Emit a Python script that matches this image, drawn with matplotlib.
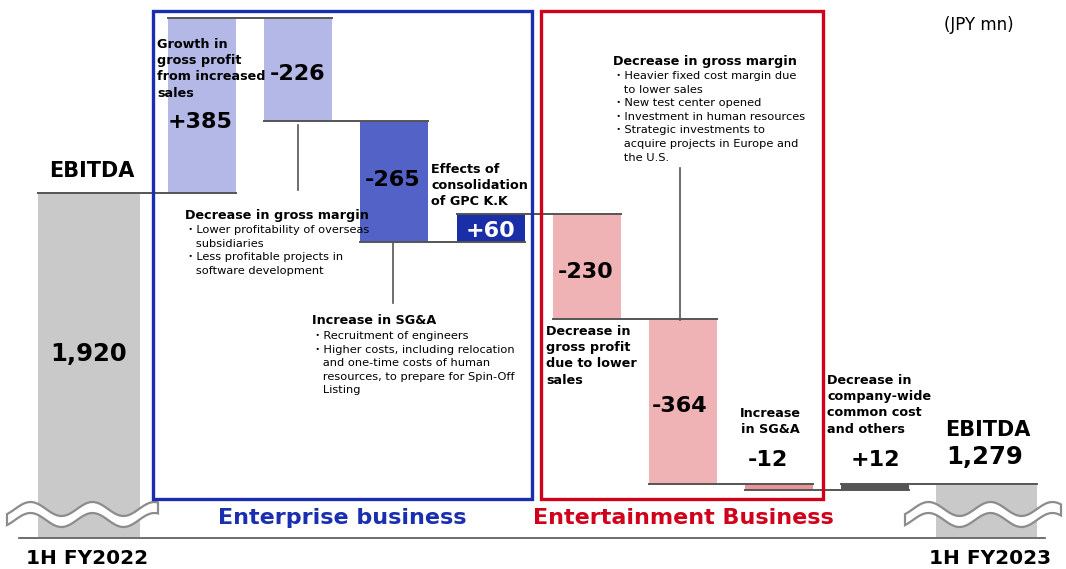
import numpy as np
import matplotlib
matplotlib.use("Agg")
import matplotlib.pyplot as plt
from matplotlib.patches import Polygon, Rectangle
from matplotlib.lines import Line2D

plt.rcParams['font.family'] = ['DejaVu Sans', 'Noto Sans CJK JP']

# data (JPY mn)
start_value = 1920
end_value = 1279
deltas = [385, -226, -265, 60, -230, -364, -12, 12]
value_labels = ['1,920', '+385', '-226', '-265', '+60', '-230', '-364', '-12', '+12', '1,279']
bar_colors = ['#c9c9c9', '#b3b8e7', '#b3b8e7', '#5262c7', '#1a2ea8',
              '#efb3b6', '#efb3b6', '#e8959a', '#555555', '#c9c9c9']

# layout
W, H = 1066, 569
x_off = np.array([-0.17, 0, 0, 0, 0, 0, 0, 0, 0, 0.16])
widths = np.array([1.06] + [0.707] * 8 + [1.05])
base = 1165  # broken axis floor
xa, xb = 105.8, 96.2
ya, yb, yv = 227.5, 0.4547, 1845.1

fig = plt.figure(figsize=(W / 100, H / 100), dpi=100)
ax = fig.add_axes([0, 0, 1, 1])
ax.set_xlim(-xa / xb, (W - xa) / xb)
ax.set_ylim(yv - (H - ya) / yb, yv + ya / yb)
ax.axis('off')


def fx(px):
    return px / W


def fy(py):
    return 1 - py / H


def ftext(px, py, s, **kw):
    kw.setdefault('transform', fig.transFigure)
    return ax.text(fx(px), fy(py), s, **kw)


def fline(xs, ys, **kw):
    ax.add_line(Line2D([fx(x) for x in xs], [fy(y) for y in ys],
                       transform=fig.transFigure, **kw))


# waterfall
levels = np.concatenate([[start_value], start_value + np.cumsum(deltas)])
pos = np.arange(10) + x_off
bottoms = [base]
heights = [start_value - base]
for i, d in enumerate(deltas):
    lo = min(levels[i], levels[i + 1])
    bottoms.append(lo)
    heights.append(abs(d))
bottoms.append(base)
heights.append(end_value - base)

ax.bar(pos, heights, bottom=bottoms, width=widths, color=bar_colors, zorder=2)

# connector lines
for i in range(1, 10):
    lv = levels[i - 1]
    x0 = pos[i - 1] - widths[i - 1] / 2
    x1 = pos[i] + widths[i] / 2
    ax.plot([x0, x1], [lv, lv], color='#555555', lw=1.4, zorder=3)

# axis line
fline([19, 1045], [538, 538], color='#555555', lw=1.2, zorder=3)


# wave break marks
def wave(x0, x1, yc):
    xs = np.linspace(x0, x1, 80)
    yt = yc - 5 - 7 * np.sin(2 * np.pi * (xs - x0 - 8) / 62)
    yb_ = yt + 11
    pts = [(fx(x), fy(y)) for x, y in zip(xs, yt)] + \
          [(fx(x), fy(y)) for x, y in zip(xs[::-1], yb_[::-1])]
    ax.add_patch(Polygon(pts, closed=True, transform=fig.transFigure,
                         facecolor='white', edgecolor='#8c8c8c', lw=1.6, zorder=4))


wave(7, 158, 514)
wave(905, 1061, 514)

# segment boxes
ax.add_patch(Rectangle((fx(153), fy(499)), fx(532) - fx(153), fy(11) - fy(499),
                       transform=fig.transFigure, fill=False, edgecolor='#1a2eb0', lw=2.4, zorder=5))
ax.add_patch(Rectangle((fx(541), fy(499)), fx(823) - fx(541), fy(11) - fy(499),
                       transform=fig.transFigure, fill=False, edgecolor='#d0021b', lw=2.4, zorder=5))

# callout leaders
fline([298, 298], [125, 190], color='#555555', lw=1.2, zorder=3)
fline([393, 393], [242, 303], color='#555555', lw=1.2, zorder=3)
fline([680, 680], [168, 320], color='#555555', lw=1.2, zorder=3)

# value labels
big = dict(fontsize=16, fontweight='bold', ha='center', va='center', zorder=6)
ftext(89, 354, value_labels[0], **dict(big, fontsize=17.5))
ftext(200, 122, value_labels[1], **big)
ftext(298, 74, value_labels[2], **big)
ftext(393, 180, value_labels[3], **big)
ftext(491, 231, value_labels[4], color='white', **big)
ftext(586, 272, value_labels[5], **big)
ftext(680, 406, value_labels[6], **big)
ftext(768, 460, value_labels[7], **big)
ftext(875, 460, value_labels[8], **big)
ftext(985, 457, value_labels[9], **dict(big, fontsize=17.5))
ftext(92, 171, 'EBITDA', **dict(big, fontsize=15))
ftext(988, 430, 'EBITDA', **dict(big, fontsize=15))

# axis category labels
ftext(87, 559, '1H FY2022', **dict(big, fontsize=14.5))
ftext(990, 559, '1H FY2023', **dict(big, fontsize=14.5))
ftext(342, 518, 'Enterprise business', color='#1a2eb0', **dict(big, fontsize=16))
ftext(683, 518, 'Entertainment Business', color='#d0021b', **dict(big, fontsize=16))
ftext(979, 25, '(JPY mn)', fontsize=12, ha='center', va='center')

# annotations
hd = dict(fontsize=9.2, fontweight='bold', ha='left', va='top', linespacing=1.32, zorder=6)
bl = dict(fontsize=8.2, ha='left', va='top', linespacing=1.45, zorder=6)
ftext(157, 38, 'Growth in\ngross profit\nfrom increased\nsales', **hd)
ftext(185, 209, 'Decrease in gross margin', **hd)
ftext(185, 225, '・Lower profitability of overseas\n   subsidiaries\n・Less profitable projects in\n   software development', **bl)
ftext(431, 163, 'Effects of\nconsolidation\nof GPC K.K', **hd)
ftext(312, 314, 'Increase in SG&A', **hd)
ftext(312, 331, '・Recruitment of engineers\n・Higher costs, including relocation\n   and one-time costs of human\n   resources, to prepare for Spin-Off\n   Listing', **bl)
ftext(613, 55, 'Decrease in gross margin', **hd)
ftext(613, 71, '・Heavier fixed cost margin due\n   to lower sales\n・New test center opened\n・Investment in human resources\n・Strategic investments to\n   acquire projects in Europe and\n   the U.S.', **bl)
ftext(546, 325, 'Decrease in\ngross profit\ndue to lower\nsales', **hd)
ftext(770, 407, 'Increase\nin SG&A', **dict(hd, ha='center', multialignment='center'))
ftext(827, 374, 'Decrease in\ncompany-wide\ncommon cost\nand others', **hd)

fig.savefig('out.png', dpi=100)
